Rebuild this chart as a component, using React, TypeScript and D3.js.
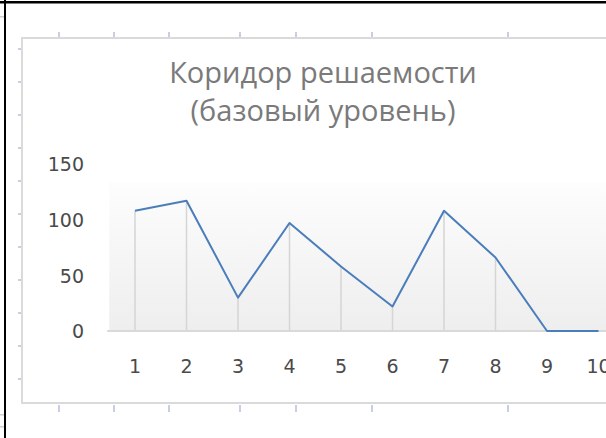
import React from "react";
import * as d3 from "d3";

const categories = ["1", "2", "3", "4", "5", "6", "7", "8", "9", "10"];
const values = [108, 117, 30, 97, 58, 22, 108, 66, 0, 0];
const yTicks = [0, 50, 100, 150];
const titleLines = ["Коридор решаемости", "(базовый уровень)"];

const W = 606;
const H = 438;

// decorative page/table marks around the embedded chart
const topMarks = [59, 114, 169, 240, 296, 372, 508];
const leftMarks = [49, 82, 115, 148, 181, 214, 247, 280, 313, 346, 379];

export default function App() {
  const x = d3.scaleBand<string>().domain(categories).range([109.25, 624.25]);
  const y = d3.scaleLinear().domain([0, 150]).range([331, 164]);
  const cx = (c: string) => (x(c) as number) + x.bandwidth() / 2;

  const line = d3
    .line<number>()
    .x((_, i) => cx(categories[i]))
    .y((d) => y(d));

  const markColor = "#c7cfe0";
  const plotTop = y(134);

  return (
    <div style={{ position: "fixed", left: 0, top: 0, width: W, height: H, background: "#fff" }}>
      <svg width={W} height={H} style={{ display: "block" }}>
        <defs>
          <linearGradient id="plotGrad" x1="0" y1="0" x2="0" y2="1">
            <stop offset="0" stopColor="#fdfdfd" />
            <stop offset="1" stopColor="#eeeeee" />
          </linearGradient>
        </defs>
        <rect x={0} y={0} width={W} height={H} fill="#fff" />

        {/* page lines */}
        <rect x={0} y={1} width={W} height={2.5} fill="#000" />
        <rect x={4} y={0} width={2} height={H} fill="#000" />
        <rect x={0} y={16} width={4} height={1.5} fill="#d0d0d0" />
        <rect x={0} y={414} width={4} height={1.5} fill="#d0d0d0" />
        <rect x={0} y={426} width={4} height={1.5} fill="#d0d0d0" />

        {/* ruler marks */}
        {topMarks.map((m) => (
          <g key={"t" + m}>
            <rect x={m - 1} y={32} width={2} height={5} fill={markColor} />
            <rect x={m - 1} y={405} width={2} height={7} fill={markColor} />
          </g>
        ))}
        {leftMarks.map((m) => (
          <rect key={"l" + m} x={18} y={m - 1} width={3} height={2} fill={markColor} />
        ))}

        {/* chart frame */}
        <rect x={22} y={38} width={W} height={365} fill="#fff" stroke="#dadada" strokeWidth={2} />

        {/* title */}
        <text
          x={323}
          textAnchor="middle"
          fontFamily="'Open Sans', sans-serif"
          fontSize={29}
          fill="#7a7a7a"
        >
          {titleLines.map((t, i) => (
            <tspan key={i} x={323} y={83 + i * 38}>
              {t}
            </tspan>
          ))}
        </text>

        {/* plot area */}
        <rect
          x={x.range()[0]}
          y={plotTop}
          width={x.range()[1] - x.range()[0]}
          height={y(0) - plotTop}
          fill="url(#plotGrad)"
        />

        {/* drop lines */}
        {values.map((v, i) => (
          <line
            key={"d" + i}
            x1={cx(categories[i])}
            x2={cx(categories[i])}
            y1={y(v)}
            y2={y(0)}
            stroke="#d5d5d5"
            strokeWidth={1.5}
          />
        ))}

        {/* x axis */}
        <line x1={x.range()[0] - 2} x2={W} y1={y(0)} y2={y(0)} stroke="#d9d9d9" strokeWidth={2} />

        {/* series */}
        <path d={line(values) || ""} fill="none" stroke="#4a7ebb" strokeWidth={2} strokeLinejoin="round" />

        {/* y labels */}
        {yTicks.map((t) => (
          <text
            key={"y" + t}
            x={84}
            y={y(t)}
            dy="0.38em"
            textAnchor="end"
            fontFamily="'DejaVu Sans', sans-serif"
            fontSize={19}
            fill="#4a4a4a"
          >
            {t}
          </text>
        ))}

        {/* x labels */}
        {categories.map((c) => (
          <text
            key={"x" + c}
            x={cx(c)}
            y={373}
            textAnchor="middle"
            fontFamily="'DejaVu Sans', sans-serif"
            fontSize={19}
            fill="#4a4a4a"
          >
            {c}
          </text>
        ))}
      </svg>
    </div>
  );
}
